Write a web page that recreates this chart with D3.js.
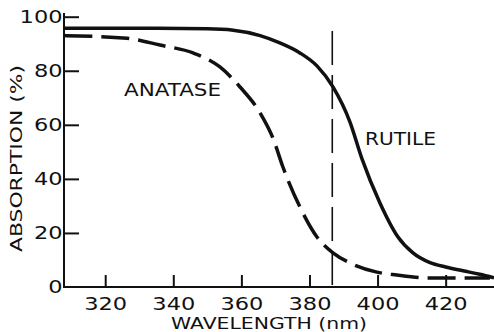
<!DOCTYPE html>
<html>
<head>
<meta charset="utf-8">
<script src="https://cdn.jsdelivr.net/npm/d3@7"></script>
<style>
  html, body { margin: 0; padding: 0; background: #fff; }
  svg { display: block; }
  text { font-family: "DejaVu Sans", sans-serif; fill: #111; }
</style>
</head>
<body>
<svg id="chart" width="494" height="332"></svg>
<script>
// ---- data ----
const rutileWavelength = [308, 330, 350, 357.6, 365.5, 371.3, 377.2, 382.2, 386.9, 391.9, 395.4, 400.7, 406, 410.4, 415.4, 420, 425.1, 430, 434.2];
const rutileAbsorption = [95.7, 95.7, 95.5, 95.0, 93.0, 90.3, 86.6, 81.8, 74.0, 61.0, 47.5, 31.1, 18.5, 12.6, 9.0, 7.4, 6.0, 4.7, 3.4];
const anataseWavelength = [308, 326.4, 336.1, 345.8, 353.7, 359.6, 365.5, 369.3, 372.2, 377.2, 382.2, 386.9, 391.9, 399.8, 405.7, 415.4, 433];
const anataseAbsorption = [93.0, 92.0, 89.5, 86.6, 81.4, 74.0, 64.4, 55.0, 44.4, 29.6, 18.5, 12.6, 8.9, 5.5, 4.4, 3.3, 3.3];
const markerWavelength = 386.7;
const xTicks = [320, 340, 360, 380, 400, 420];
const yTicks = [0, 20, 40, 60, 80, 100];
const xTitle = "WAVELENGTH (nm)";
const yTitle = "ABSORPTION (%)";
const seriesLabels = ["ANATASE", "RUTILE"];

// ---- layout ----
const svg = d3.select("#chart");
const x = d3.scaleLinear().domain([307.9, 434.2]).range([64, 494]);
const y = d3.scaleLinear().domain([0, 100]).range([287, 16.7]);

function stretch(sel, factor) {
  sel.each(function () {
    const len = this.getComputedTextLength();
    d3.select(this).attr("textLength", len * factor).attr("lengthAdjust", "spacingAndGlyphs");
  });
}

// y axis
const yAxis = svg.append("g").attr("transform", "translate(64,0)")
  .call(d3.axisLeft(y).tickValues(yTicks).tickSize(-15).tickPadding(0));
yAxis.select(".domain").remove();
yAxis.selectAll(".tick line").attr("stroke", "#111").attr("stroke-width", 2)
  .filter(d => d === 0).remove();
yAxis.selectAll(".tick text")
  .attr("x", -1.5)
  .style("font-size", "18px")
  .attr("fill", "#111")
  .call(stretch, 1.25);
svg.append("line").attr("x1", 64).attr("x2", 64).attr("y1", 13).attr("y2", 288)
  .attr("stroke", "#111").attr("stroke-width", 2);

// x axis
const xAxis = svg.append("g").attr("transform", "translate(0,287)")
  .call(d3.axisBottom(x).tickValues(xTicks).tickSize(-12).tickPadding(10));
xAxis.select(".domain").remove();
xAxis.selectAll(".tick line").attr("stroke", "#111").attr("stroke-width", 2);
xAxis.selectAll(".tick text")
  .style("font-size", "18px")
  .attr("fill", "#111")
  .call(stretch, 1.25);
svg.append("line").attr("x1", 63).attr("x2", 494).attr("y1", 287).attr("y2", 287)
  .attr("stroke", "#111").attr("stroke-width", 2);

// vertical marker
svg.append("line")
  .attr("x1", x(markerWavelength)).attr("x2", x(markerWavelength))
  .attr("y1", 31).attr("y2", 287)
  .attr("stroke", "#111").attr("stroke-width", 1.6)
  .attr("stroke-dasharray", "34,10");

// curves
const line = d3.line().x(d => x(d[0])).y(d => y(d[1])).curve(d3.curveMonotoneX);
const rutile = rutileWavelength.map((w, i) => [w, rutileAbsorption[i]]);
const anatase = anataseWavelength.map((w, i) => [w, anataseAbsorption[i]]);

svg.append("path").datum(rutile).attr("d", line)
  .attr("fill", "none").attr("stroke", "#111").attr("stroke-width", 3.5);
svg.append("path").datum(anatase).attr("d", line)
  .attr("fill", "none").attr("stroke", "#111").attr("stroke-width", 3.5)
  .attr("stroke-dasharray", "28,9");

// series labels
svg.append("text").attr("x", 124).attr("y", 95.7)
  .attr("textLength", 97).attr("lengthAdjust", "spacingAndGlyphs")
  .style("font-size", "18px").text(seriesLabels[0]);
svg.append("text").attr("x", 365).attr("y", 145)
  .attr("textLength", 71).attr("lengthAdjust", "spacingAndGlyphs")
  .style("font-size", "18px").text(seriesLabels[1]);

// axis titles
svg.append("text").attr("x", 171).attr("y", 329.3)
  .attr("textLength", 196).attr("lengthAdjust", "spacingAndGlyphs")
  .style("font-size", "16.5px").text(xTitle);
svg.append("text")
  .attr("transform", "translate(22,252) rotate(-90)")
  .attr("x", 0).attr("y", 0)
  .attr("textLength", 187).attr("lengthAdjust", "spacingAndGlyphs")
  .style("font-size", "16.5px").text(yTitle);
</script>
</body>
</html>
